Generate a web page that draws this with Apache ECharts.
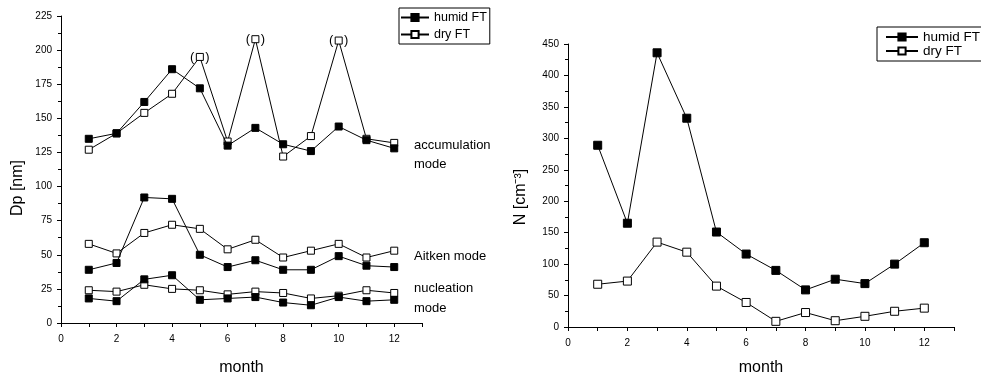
<!DOCTYPE html>
<html>
<head>
<meta charset="utf-8">
<script src="https://cdn.jsdelivr.net/npm/echarts@6/dist/echarts.min.js"></script>
<style>
body{margin:0;background:#fff;}
#main{width:981px;height:373px;}
</style>
</head>
<body>
<div id="main"></div>
<script>
var months = [1,2,3,4,5,6,7,8,9,10,11,12];

// left panel: Dp [nm]
var accHumid = [135,139,162,186,172,130,143,131,126,144,134,128];
var accDry   = [127,139,154,168,195,133,208,122,137,207,135,132];
var aitHumid = [39,44,92,91,50,41,46,39,39,49,42,41];
var aitDry   = [58,51,66,72,69,54,61,48,53,58,48,53];
var nucHumid = [18,16,32,35,17,18,19,15,13,19,16,17];
var nucDry   = [24,23,28,25,24,21,23,22,18,20,24,22];
var bracketMonths = [5,7,10];   // dry FT points drawn in brackets

// right panel: N [cm-3]
var nHumid = [289,165,436,332,151,116,90,59,76,69,100,134];
var nDry   = [68,73,135,119,65,39,9,23,10,17,25,30];

var FONT = 'Liberation Sans, Arial, sans-serif';

function pairs(vals, marks) {
	var out = [];
	for (var i = 0; i < months.length; i++) {
		var item = {value: [months[i], vals[i]]};
		if (marks && marks.indexOf(months[i]) >= 0) {
			item.label = {
				show: true, position: 'inside', formatter: '(   )',
				color: '#000', fontSize: 13, fontFamily: FONT
			};
		}
		out.push(item);
	}
	return out;
}

function humid(vals, gi, size) {
	return {
		name: 'humid FT', type: 'line', xAxisIndex: gi, yAxisIndex: gi,
		data: pairs(vals), symbol: 'rect', symbolSize: size,
		lineStyle: {color: '#000', width: 1},
		itemStyle: {color: '#000', borderColor: '#000', borderWidth: 1},
		emphasis: {disabled: true}, z: 3
	};
}
function dry(vals, gi, size, marks) {
	return {
		name: 'dry FT', type: 'line', xAxisIndex: gi, yAxisIndex: gi,
		data: pairs(vals, marks), symbol: 'rect', symbolSize: size,
		lineStyle: {color: '#000', width: 1},
		itemStyle: {color: '#fff', borderColor: '#000', borderWidth: 1},
		emphasis: {disabled: true}, z: 2
	};
}

function xAx(gi, gap) {
	return {
		type: 'value', gridIndex: gi, min: 0, max: 13, interval: 1,
		name: 'month', nameLocation: 'middle', nameGap: gap,
		nameTextStyle: {color: '#000', fontSize: 16, fontFamily: FONT},
		axisLine: {lineStyle: {color: '#000', width: 1}},
		axisTick: {length: 4, lineStyle: {color: '#000'}},
		axisLabel: {
			color: '#000', fontSize: 10, fontFamily: FONT, margin: 11,
			formatter: function(v) { return v % 2 === 0 ? v : ''; }
		},
		splitLine: {show: false}
	};
}
function yAx(gi, max, step) {
	return {
		type: 'value', gridIndex: gi, min: 0, max: max, interval: step,
		axisLine: {show: true, lineStyle: {color: '#000', width: 1}},
		axisTick: {show: true, length: 4, lineStyle: {color: '#000'}},
		minorTick: {show: true, splitNumber: 2, length: 3, lineStyle: {color: '#000'}},
		axisLabel: {color: '#000', fontSize: 10, fontFamily: FONT, margin: 9},
		splitLine: {show: false}
	};
}

function note(x, y, txt) {
	return {type: 'text', x: x, y: y, style: {text: txt, fill: '#000', font: '13px ' + FONT, verticalAlign: 'middle'}};
}

var chart = echarts.init(document.getElementById('main'));
chart.setOption({
	animation: false,
	backgroundColor: '#fff',
	grid: [
		{left: 61, right: 559, top: 16, bottom: 50, outerBoundsMode: 'none', containLabel: false},
		{left: 568, right: 27, top: 44, bottom: 46, outerBoundsMode: 'none', containLabel: false}
	],
	xAxis: [xAx(0, 37), xAx(1, 33)],
	yAxis: [yAx(0, 225, 25), yAx(1, 450, 50)],
	legend: [
		{
			left: 399, top: 8, orient: 'vertical', data: ['humid FT', 'dry FT'],
			borderColor: '#000', borderWidth: 1, padding: [3, 3, 3, 1],
			itemWidth: 28, itemHeight: 9, itemGap: 4,
			textStyle: {color: '#000', fontSize: 12.5, fontFamily: FONT}, selectedMode: false
		},
		{
			left: 877, top: 27, orient: 'vertical', data: ['humid FT', 'dry FT'],
			borderColor: '#000', borderWidth: 1, padding: [3, 6, 3, 8],
			itemWidth: 32, itemHeight: 9, itemGap: 0,
			textStyle: {color: '#000', fontSize: 13.5, fontFamily: FONT}, selectedMode: false
		}
	],
	graphic: [
		note(414, 145, 'accumulation'),
		note(414, 164, 'mode'),
		note(414, 256, 'Aitken mode'),
		note(414, 288, 'nucleation'),
		note(414, 308, 'mode'),
		{type: 'text', x: 18, y: 188, rotation: Math.PI / 2,
			style: {text: 'Dp [nm]', fill: '#000', font: '16px ' + FONT, align: 'center', verticalAlign: 'middle'}},
		{type: 'text', x: 521, y: 197, rotation: Math.PI / 2,
			style: {text: 'N [cm\u207B\u00B3]', fill: '#000', font: '16px ' + FONT, align: 'center', verticalAlign: 'middle'}}
	],
	series: [
		humid(accHumid, 0, 7), dry(accDry, 0, 7, bracketMonths),
		humid(aitHumid, 0, 7), dry(aitDry, 0, 7),
		humid(nucHumid, 0, 7), dry(nucDry, 0, 7),
		humid(nHumid, 1, 8), dry(nDry, 1, 8)
	]
});
</script>
</body>
</html>
